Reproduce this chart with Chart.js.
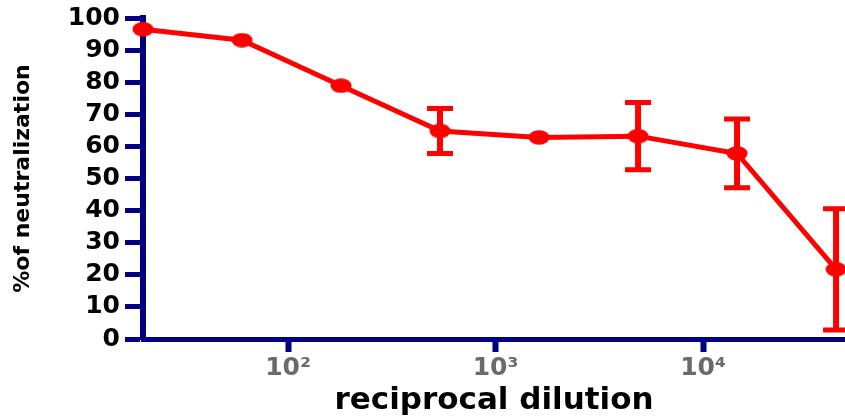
<!DOCTYPE html>
<html>
<head>
<meta charset="utf-8">
<script src="https://cdn.jsdelivr.net/npm/chart.js@4"></script>
<style>
  html, body { margin: 0; padding: 0; background: #ffffff; }
  #wrap { width: 845px; height: 420px; }
</style>
</head>
<body>
<div id="wrap"><canvas id="chart" width="845" height="420"></canvas></div>
<script>
// Reciprocal dilutions (3-fold series) and mean neutralization with SD
const dilutions = [20, 60, 180, 540, 1620, 4860, 14580, 43740];
const neutralization = [96.5, 93.1, 78.9, 64.8, 62.8, 63.2, 57.8, 21.7];
const errorSD = [0, 0, 0, 7.0, 0, 10.5, 10.7, 18.9];
const xTickValues = [100, 1000, 10000];
const xTickLabels = ['10\u00B2', '10\u00B3', '10\u2074'];

const RED = '#ff0000';
const NAVY = '#000080';
const FONT = "'DejaVu Sans', sans-serif";

// Slightly wide oval marker
function makeMarker() {
  const c = document.createElement('canvas');
  c.width = 22; c.height = 15;
  const g = c.getContext('2d');
  g.fillStyle = RED;
  g.beginPath();
  g.ellipse(11, 7.5, 10.5, 7.3, 0, 0, Math.PI * 2);
  g.fill();
  return c;
}

// Vertical error bars with caps, positioned through the chart's scales
const errorBars = {
  id: 'errorBars',
  afterDatasetsDraw(chart) {
    const { ctx, scales: { x, y } } = chart;
    ctx.save();
    ctx.strokeStyle = RED;
    ctx.lineCap = 'butt';
    dilutions.forEach((d, i) => {
      const sd = errorSD[i];
      if (!sd) return;
      const px = x.getPixelForValue(d);
      const top = y.getPixelForValue(neutralization[i] + sd);
      const bot = y.getPixelForValue(neutralization[i] - sd);
      ctx.lineWidth = 6;
      ctx.beginPath();
      ctx.moveTo(px, top);
      ctx.lineTo(px, bot);
      ctx.stroke();
      ctx.lineWidth = 5;
      ctx.beginPath();
      ctx.moveTo(px - 13, top); ctx.lineTo(px + 13, top);
      ctx.moveTo(px - 13, bot); ctx.lineTo(px + 13, bot);
      ctx.stroke();
    });
    ctx.restore();
  }
};

const marker = makeMarker();

new Chart(document.getElementById('chart'), {
  type: 'line',
  data: {
    datasets: [{
      data: dilutions.map((d, i) => ({ x: d, y: neutralization[i] })),
      borderColor: RED,
      backgroundColor: RED,
      borderWidth: 5,
      tension: 0,
      pointStyle: marker,
      pointRadius: 8,
      pointHoverRadius: 8,
      clip: false
    }]
  },
  plugins: [errorBars],
  options: {
    responsive: false,
    devicePixelRatio: 1,
    animation: false,
    layout: {
      autoPadding: false,
      padding: { top: 18, right: 0, bottom: 0, left: 0 }
    },
    plugins: {
      legend: { display: false },
      tooltip: { enabled: false }
    },
    scales: {
      x: {
        type: 'logarithmic',
        min: 20,
        max: 48300,
        afterBuildTicks(scale) {
          scale.ticks = xTickValues.map(v => ({ value: v }));
        },
        afterFit(scale) {
          scale.height = 81;
          scale.paddingLeft = 0;
          scale.paddingRight = 0;
        },
        border: { display: true, color: NAVY, width: 5 },
        grid: {
          display: true,
          drawOnChartArea: false,
          drawTicks: true,
          tickLength: 13,
          tickWidth: 6,
          tickColor: NAVY
        },
        ticks: {
          autoSkip: false,
          maxRotation: 0,
          padding: 1,
          color: '#6a6a6a',
          font: { family: FONT, size: 25, weight: 'bold' },
          callback(value) {
            const k = xTickValues.indexOf(value);
            return k >= 0 ? xTickLabels[k] : '';
          }
        },
        title: {
          display: true,
          text: 'reciprocal dilution',
          color: '#000000',
          font: { family: FONT, size: 31, weight: 'bold' },
          padding: { top: 0, bottom: 0 }
        }
      },
      y: {
        min: 0,
        max: 100,
        afterFit(scale) {
          scale.width = 143;
          scale.paddingTop = 0;
          scale.paddingBottom = 0;
        },
        border: { display: true, color: NAVY, width: 6 },
        grid: {
          display: true,
          drawOnChartArea: false,
          drawTicks: true,
          tickLength: 18,
          tickWidth: 5,
          tickColor: NAVY
        },
        ticks: {
          autoSkip: false,
          stepSize: 10,
          padding: 5,
          color: '#000000',
          font: { family: FONT, size: 25, weight: 'bold' }
        },
        title: {
          display: true,
          text: '%of neutralization',
          color: '#000000',
          font: { family: FONT, size: 22, weight: 'bold' },
          padding: { top: 10, bottom: 0 }
        }
      }
    }
  }
});
</script>
</body>
</html>
